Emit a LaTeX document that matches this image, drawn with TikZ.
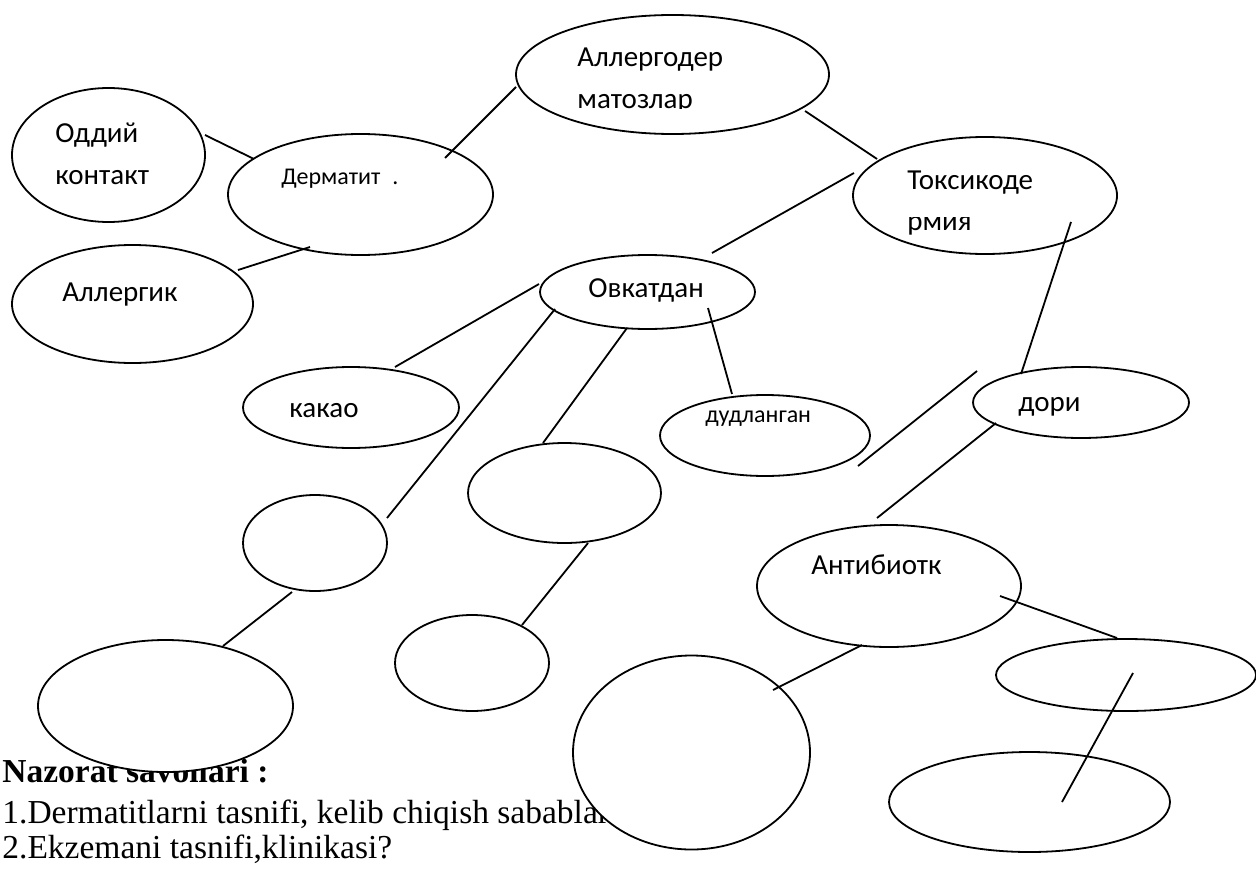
\documentclass[tikz,border=0pt]{standalone}
\usepackage{fontspec}
\setmainfont{Liberation Serif}
\newfontfamily\calfont{Carlito}
\usetikzlibrary{shapes.geometric}
\begin{document}
\begin{tikzpicture}[x=0.5pt,y=-0.5pt,
  ell/.style={ellipse,draw,fill=white,line width=0.9pt,inner sep=0pt},
  conn/.style={line width=0.9pt},
  lbl/.style={anchor=base west,inner sep=0pt,font=\calfont\fontsize{14.5}{17}\selectfont},
  slbl/.style={anchor=base west,inner sep=0pt,font=\calfont\fontsize{12}{14}\selectfont},
  body/.style={anchor=base west,inner sep=0pt,font=\fontsize{16.75}{20}\selectfont},
  bodyb/.style={anchor=base west,inner sep=0pt,font=\bfseries\fontsize{16.75}{20}\selectfont}]
\useasboundingbox (0,0) rectangle (1256,872);
% text under the ellipses
\node[bodyb] (q0) at (2,782) {Nazorat savollari :};
\node[body] (q1) at (2,823) {1.Dermatitlarni tasnifi, kelib chiqish sabablari?};
\node[body] (q2) at (2,858) {2.Ekzemani tasnifi,klinikasi?};
% ellipses
\node[ell,minimum width=96.5pt,minimum height=67pt] (oddiy) at (108.5,155) {};
\node[ell,minimum width=132.5pt,minimum height=60.5pt] (derm) at (360.5,194.5) {};
\node[ell,minimum width=120.5pt,minimum height=59pt] (allerg) at (132.5,304) {};
\node[ell,minimum width=156.5pt,minimum height=59.5pt] (allergo) at (672.5,74.5) {};
\node[ell,minimum width=132pt,minimum height=58.5pt] (toks) at (985,195.5) {};
\node[ell,minimum width=107.5pt,minimum height=37pt] (ovkat) at (647.5,292) {};
\node[ell,minimum width=108pt,minimum height=40.5pt] (kakao) at (351,407.5) {};
\node[ell,minimum width=105pt,minimum height=40.5pt] (dudl) at (765,435.5) {};
\node[ell,minimum width=108pt,minimum height=35.5pt] (dori) at (1081,402.5) {};
\node[ell,minimum width=72pt,minimum height=48pt] (esmall) at (315,543) {};
\node[ell,minimum width=127.5pt,minimum height=66pt] (ebiglf) at (165.5,706) {};
\node[ell,minimum width=96.5pt,minimum height=50pt] (emid) at (564.5,493) {};
\node[ell,minimum width=77pt,minimum height=48pt] (elowmid) at (472,663) {};
\node[ell,minimum width=132pt,minimum height=61pt] (antib) at (889,586) {};
\node[ell,minimum width=118.5pt,minimum height=97pt] (ebigmid) at (691.5,752.5) {};
\node[ell,minimum width=130pt,minimum height=36pt] (eright) at (1126,675) {};
\node[ell,minimum width=140.5pt,minimum height=50pt] (ebotr) at (1029.5,802) {};
% connector ends
\coordinate (c1a) at (205,135);  \coordinate (c1b) at (254,159);
\coordinate (c2a) at (445,158);  \coordinate (c2b) at (516,87);
\coordinate (c3a) at (238,270);  \coordinate (c3b) at (310,247);
\coordinate (c4a) at (805,111);  \coordinate (c4b) at (877,159);
\coordinate (c5a) at (854,173);  \coordinate (c5b) at (712,253);
\coordinate (c6a) at (1071,222); \coordinate (c6b) at (1021,374);
\coordinate (c7a) at (539,284);  \coordinate (c7b) at (395,367);
\coordinate (c8a) at (555,309);  \coordinate (c8b) at (387,518);
\coordinate (c9a) at (627,328);  \coordinate (c9b) at (543,443);
\coordinate (c10a) at (708,308); \coordinate (c10b) at (732,394);
\coordinate (c11a) at (292,592); \coordinate (c11b) at (223,646);
\coordinate (c12a) at (588,543); \coordinate (c12b) at (522,625);
\coordinate (c13a) at (996,423); \coordinate (c13b) at (877,518);
\coordinate (c14a) at (977,371); \coordinate (c14b) at (858,466);
\coordinate (c15a) at (862,645); \coordinate (c15b) at (773,690);
\coordinate (c16a) at (1000,596); \coordinate (c16b) at (1117,638);
\coordinate (c17a) at (1133,673); \coordinate (c17b) at (1062,802);
\foreach \i in {1,...,17} {\draw[conn] (c\i a) -- (c\i b);}
% labels
\node[lbl] (t1) at (55,142) {Оддий};
\node[lbl] (t2) at (55,184) {контакт};
\node[slbl] (t3) at (281,184) {Дерматит\hspace{6pt}.};
\node[lbl] (t4) at (62,301) {Аллергик};
\node[lbl] (t5) at (577,67) {Аллергодер};
\begin{scope}
  \clip (560,80) rectangle (760,108);
  \node[lbl] (t6) at (577,109) {матозлар};
\end{scope}
\node[lbl] (t7) at (907,189) {Токсикоде};
\begin{scope}
  \clip (890,217) rectangle (1000,234);
  \node[lbl] (t8) at (907,230) {рмия};
\end{scope}
\node[lbl] (t9) at (588,297) {Овкатдан};
\node[lbl] (t10) at (289,417) {какао};
\node[slbl] (t11) at (705,422) {дудланган};
\node[lbl] (t12) at (1018,411) {дори};
\node[lbl] (t13) at (811,574) {Антибиотк};
\end{tikzpicture}
\end{document}
